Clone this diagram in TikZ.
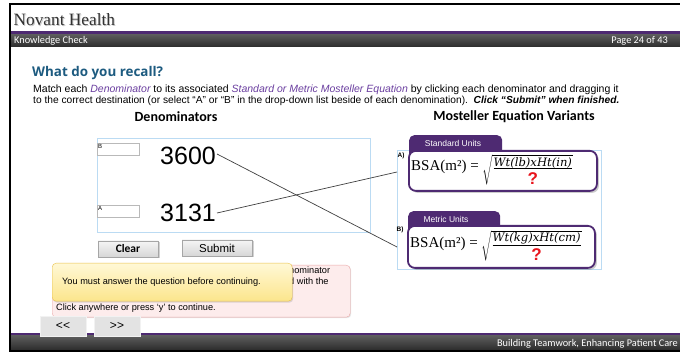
\documentclass[tikz,border=0pt]{standalone}
\usepackage{fontspec}
\setmainfont{Liberation Sans}
\newfontfamily\nhserif{Liberation Serif}
\newfontfamily\calib{Carlito}
\newfontfamily\opens{Open Sans}
\newfontfamily\dvserif{DejaVu Serif}
\usetikzlibrary{shadows,calc}
\definecolor{nhpurple}{HTML}{4E2A72}
\definecolor{bartop}{HTML}{5C5C5C}
\definecolor{barbot}{HTML}{2C2C2C}
\definecolor{headblue}{HTML}{1D5B80}
\definecolor{italpurple}{HTML}{6B3FA0}
\definecolor{boxblue}{HTML}{BBDBF3}
\definecolor{pinkfill}{HTML}{FDECEC}
\definecolor{pinkborder}{HTML}{EBA8A8}
\definecolor{yeltop}{HTML}{FFF8D6}
\definecolor{yelbot}{HTML}{FCE58C}
\definecolor{yelborder}{HTML}{E9C14A}
\definecolor{qred}{HTML}{E8141C}
\tikzset{
  bar/.style={top color=bartop,bottom color=barbot,draw=none},
  bartext/.style={text=white,font=\calib\fontsize{10.3}{10.3}\selectfont,inner sep=0pt},
  para/.style={anchor=base west,inner sep=0pt},
  colhead/.style={font=\calib\bfseries\fontsize{14}{14}\selectfont,inner sep=0pt},
  inbox/.style={draw=gray!55,fill=white,minimum width=42pt,minimum height=12pt,anchor=north west,inner sep=0pt},
  inlabel/.style={anchor=north west,font=\fontsize{6}{6}\selectfont,inner sep=1pt},
  bignum/.style={anchor=west,font=\fontsize{25}{25}\selectfont,inner sep=1pt},
  btn/.style={draw=gray!70,top color=gray!8,bottom color=gray!32,minimum height=16pt,inner sep=0pt,
    drop shadow={shadow xshift=1.5pt,shadow yshift=-1.5pt,opacity=0.35}},
  tab/.style={fill=nhpurple,rounded corners=5pt,anchor=north west,inner sep=0pt,minimum height=25pt},
  tabtext/.style={text=white,font=\fontsize{8.5}{8.5}\selectfont,inner sep=0pt},
  eqbox/.style={draw=nhpurple,line width=1.8pt,fill=white,rounded corners=7pt,anchor=north west,inner sep=0pt,
    drop shadow={shadow xshift=2pt,shadow yshift=-2pt,opacity=0.4}},
  eqlabel/.style={font=\bfseries\fontsize{6.5}{6.5}\selectfont,inner sep=0pt},
  connector/.style={draw=black!75,line width=0.7pt},
  navbtn/.style={fill=gray!22,draw=gray!10,minimum width=46pt,minimum height=20pt,inner sep=0pt,font=\fontsize{12}{12}\selectfont},
  msg/.style={inner sep=0pt,font=\fontsize{9.2}{9.2}\selectfont},
}
\newcommand{\bsaeq}[1]{{\nhserif\fontsize{15}{15}\selectfont BSA(m²) = }$\sqrt{\frac{\hbox{\dvserif\itshape\fontsize{11.6}{11.6}\selectfont #1}}{\hbox{\rule{0pt}{15pt}\bfseries\fontsize{17}{17}\selectfont\color{qred}?}}}$}
\begin{document}
\begin{tikzpicture}[x=1pt,y=-1pt]
\useasboundingbox (0,0) rectangle (680,352);
\fill[white] (0,0) rectangle (680,352);
% header
\node[anchor=base west,inner sep=0pt,text=gray!45,font=\nhserif\fontsize{17.3}{17.3}\selectfont] (brandsh) at (14.5,27) {Novant Health};
\node[anchor=base west,inner sep=0pt,text=black!80,font=\nhserif\fontsize{17.3}{17.3}\selectfont] (brand) at (13.5,26) {Novant Health};
\fill[nhpurple] (11,31.5) rectangle (680,34.5);
\shade[bar] (11,34.5) rectangle (680,47);
\node[bartext,anchor=west] (kc) at (14,41) {Knowledge Check};
\node[bartext,anchor=east] (pg) at (668,41) {Page 24 of 43};
% footer
\fill[nhpurple] (11,333) rectangle (680,336);
\shade[bar] (11,336) rectangle (680,350);
\node[bartext,anchor=east] (foot) at (678,343.5) {Building Teamwork, Enhancing Patient Care};
% frame
\draw[black,line width=2pt] (680,351) -- (10,351) -- (10,4) -- (680,4);
% question
\node[anchor=west,inner sep=0pt,text=headblue,font=\opens\bfseries\fontsize{13.4}{13.4}\selectfont] (q) at (32,73) {What do you recall?};
\node[para,font=\fontsize{10.5}{11}\selectfont] (p1) at (33,92.5) {Match each \textcolor{italpurple}{\itshape Denominator} to its associated \textcolor{italpurple}{\itshape Standard or Metric Mosteller Equation} by clicking each denominator and dragging it};
\node[para,font=\fontsize{10.2}{11}\selectfont] (p2) at (33,103.5) {to the correct destination (or select “A” or “B” in the drop-down list beside of each denomination).\ \ \textbf{\itshape Click “Submit” when finished.}};
\node[colhead] (dh) at (176,117) {Denominators};
\node[colhead] (mh) at (514,117) {Mosteller Equation Variants};
% left box
\node[draw=boxblue,minimum width=273pt,minimum height=94pt,anchor=north west,inner sep=0pt] (dbox) at (97,138) {};
\node[inbox] (inB) at (97,143) {};
\node[inlabel] (labB) at (inB.north west) {B};
\node[inbox] (inA) at (97,205) {};
\node[inlabel] (labA) at (inA.north west) {A};
\node[bignum] (n3600) at (159,156) {3600};
\node[bignum] (n3131) at (159,213) {3131};
\node[btn,minimum width=60pt,font=\calib\bfseries\fontsize{11.5}{11.5}\selectfont] (clear) at (128,249) {Clear};
\node[btn,minimum width=70pt,font=\fontsize{11.5}{11.5}\selectfont] (submit) at (217,248) {Submit};
% right box
\node[draw=boxblue,minimum width=204pt,minimum height=119pt,anchor=north west,inner sep=0pt] (vbox) at (397,150) {};
\node[tab,minimum width=93pt] (tabA) at (409,135) {};
\node[tabtext] (tabAt) at (453,143) {Standard Units};
\node[eqbox,minimum width=188pt,minimum height=40pt] (eqA) at (408,150) {};
\node[anchor=west,inner sep=0pt] (fA) at (411,170) {\bsaeq{Wt(lb)xHt(in)}};
\node[eqlabel] (lA) at (401,156) {A)};
\node[tab,minimum width=92pt] (tabB) at (408,211) {};
\node[tabtext] (tabBt) at (446,219) {Metric Units};
\node[eqbox,minimum width=187pt,minimum height=42pt] (eqB) at (407,225) {};
\node[anchor=west,inner sep=0pt] (fB) at (410,246) {\bsaeq{Wt(kg)xHt(cm)}};
\node[eqlabel] (lB) at (400,230) {B)};
% connectors
\coordinate (tA) at (397,172);
\coordinate (tB) at (397,247);
\draw[connector] ($(n3600.east)+(0,-2)$) -- (tB);
\draw[connector] (n3131.east) -- (tA);
% messages
\node[draw=pinkborder,fill=pinkfill,rounded corners=4pt,anchor=north west,minimum width=298pt,minimum height=52pt,inner sep=0pt,
  drop shadow={shadow xshift=1pt,shadow yshift=-1pt,opacity=0.2}] (pink) at (52,265) {};
\node[msg,anchor=base west] (pk1) at (289,274) {nominator};
\node[msg,anchor=base west] (pk2) at (289,285) {d with the};
\node[msg,anchor=west] (pk3) at (56,308) {Click anywhere or press ‘y’ to continue.};
\node[draw=yelborder,top color=yeltop,bottom color=yelbot,rounded corners=4pt,anchor=north west,minimum width=240pt,minimum height=38pt,inner sep=0pt,
  drop shadow={shadow xshift=1pt,shadow yshift=-1.5pt,opacity=0.25}] (yel) at (52,263) {};
\node[msg,anchor=west] (yt) at (62,282) {You must answer the question before continuing.};
% nav
\node[navbtn] (prev) at (63,326) {<\kern0pt<};
\node[navbtn] (next) at (117,326) {>\kern0pt>};
\end{tikzpicture}
\end{document}
